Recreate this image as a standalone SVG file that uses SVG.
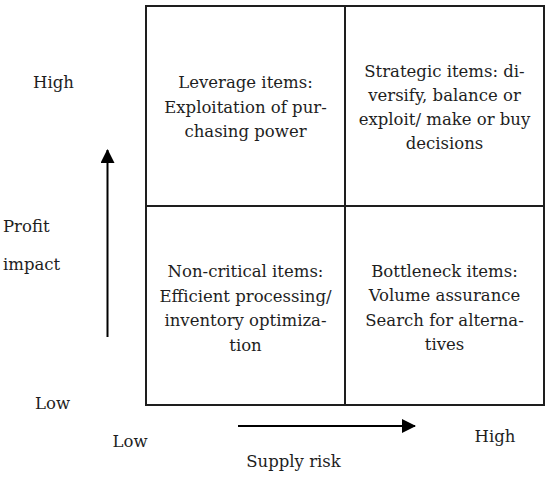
<svg xmlns="http://www.w3.org/2000/svg" width="550" height="478" viewBox="0 0 550 478">
  <style>
    text { font-family: "DejaVu Serif", "Liberation Serif", serif; font-size: 16.5px; fill: #1e1e1e; }
    .c { text-anchor: middle; }
    .cell { fill: none; stroke: #1e1e1e; stroke-width: 2; }
    .axis { stroke: #000; stroke-width: 2; fill: none; }
  </style>
  <defs>
    <marker id="ah" viewBox="0 0 14 14" refX="13" refY="7" markerWidth="14" markerHeight="14" markerUnits="userSpaceOnUse" orient="auto">
      <path d="M0,0 L14,7 L0,14 Z" fill="#000"/>
    </marker>
  </defs>
  <rect width="550" height="478" fill="#fff"/>

  <g id="leverage">
    <rect class="cell" x="146" y="6" width="199" height="200"/>
    <text class="c" x="245.5" y="88">Leverage items:</text>
    <text class="c" x="245.5" y="112.5">Exploitation of pur-</text>
    <text class="c" x="245.5" y="137">chasing power</text>
  </g>
  <g id="strategic">
    <rect class="cell" x="345" y="6" width="199" height="200"/>
    <text class="c" x="444.5" y="77">Strategic items: di-</text>
    <text class="c" x="444.5" y="101">versify, balance or</text>
    <text class="c" x="444.5" y="125">exploit/ make or buy</text>
    <text class="c" x="444.5" y="149">decisions</text>
  </g>
  <g id="noncritical">
    <rect class="cell" x="146" y="206" width="199" height="199"/>
    <text class="c" x="245.5" y="277">Non-critical items:</text>
    <text class="c" x="245.5" y="301.5">Efficient processing/</text>
    <text class="c" x="245.5" y="326">inventory optimiza-</text>
    <text class="c" x="245.5" y="350.5">tion</text>
  </g>
  <g id="bottleneck">
    <rect class="cell" x="345" y="206" width="199" height="199"/>
    <text class="c" x="444.5" y="276.5">Bottleneck items:</text>
    <text class="c" x="444.5" y="301">Volume assurance</text>
    <text class="c" x="444.5" y="325.5">Search for alterna-</text>
    <text class="c" x="444.5" y="350">tives</text>
  </g>

  <g id="y-axis-labels">
    <text class="c" x="53.5" y="88">High</text>
    <text x="3" y="232">Profit</text>
    <text x="3" y="270">impact</text>
    <text class="c" x="52.5" y="409">Low</text>
  </g>
  <g id="x-axis-labels">
    <text class="c" x="130" y="447">Low</text>
    <text class="c" x="495" y="442">High</text>
    <text class="c" x="293.5" y="467">Supply risk</text>
  </g>

  <g id="connectors">
    <line class="axis" x1="107.5" y1="337" x2="107.5" y2="150" marker-end="url(#ah)"/>
    <line class="axis" x1="238" y1="426" x2="415" y2="426" marker-end="url(#ah)"/>
  </g>
</svg>
